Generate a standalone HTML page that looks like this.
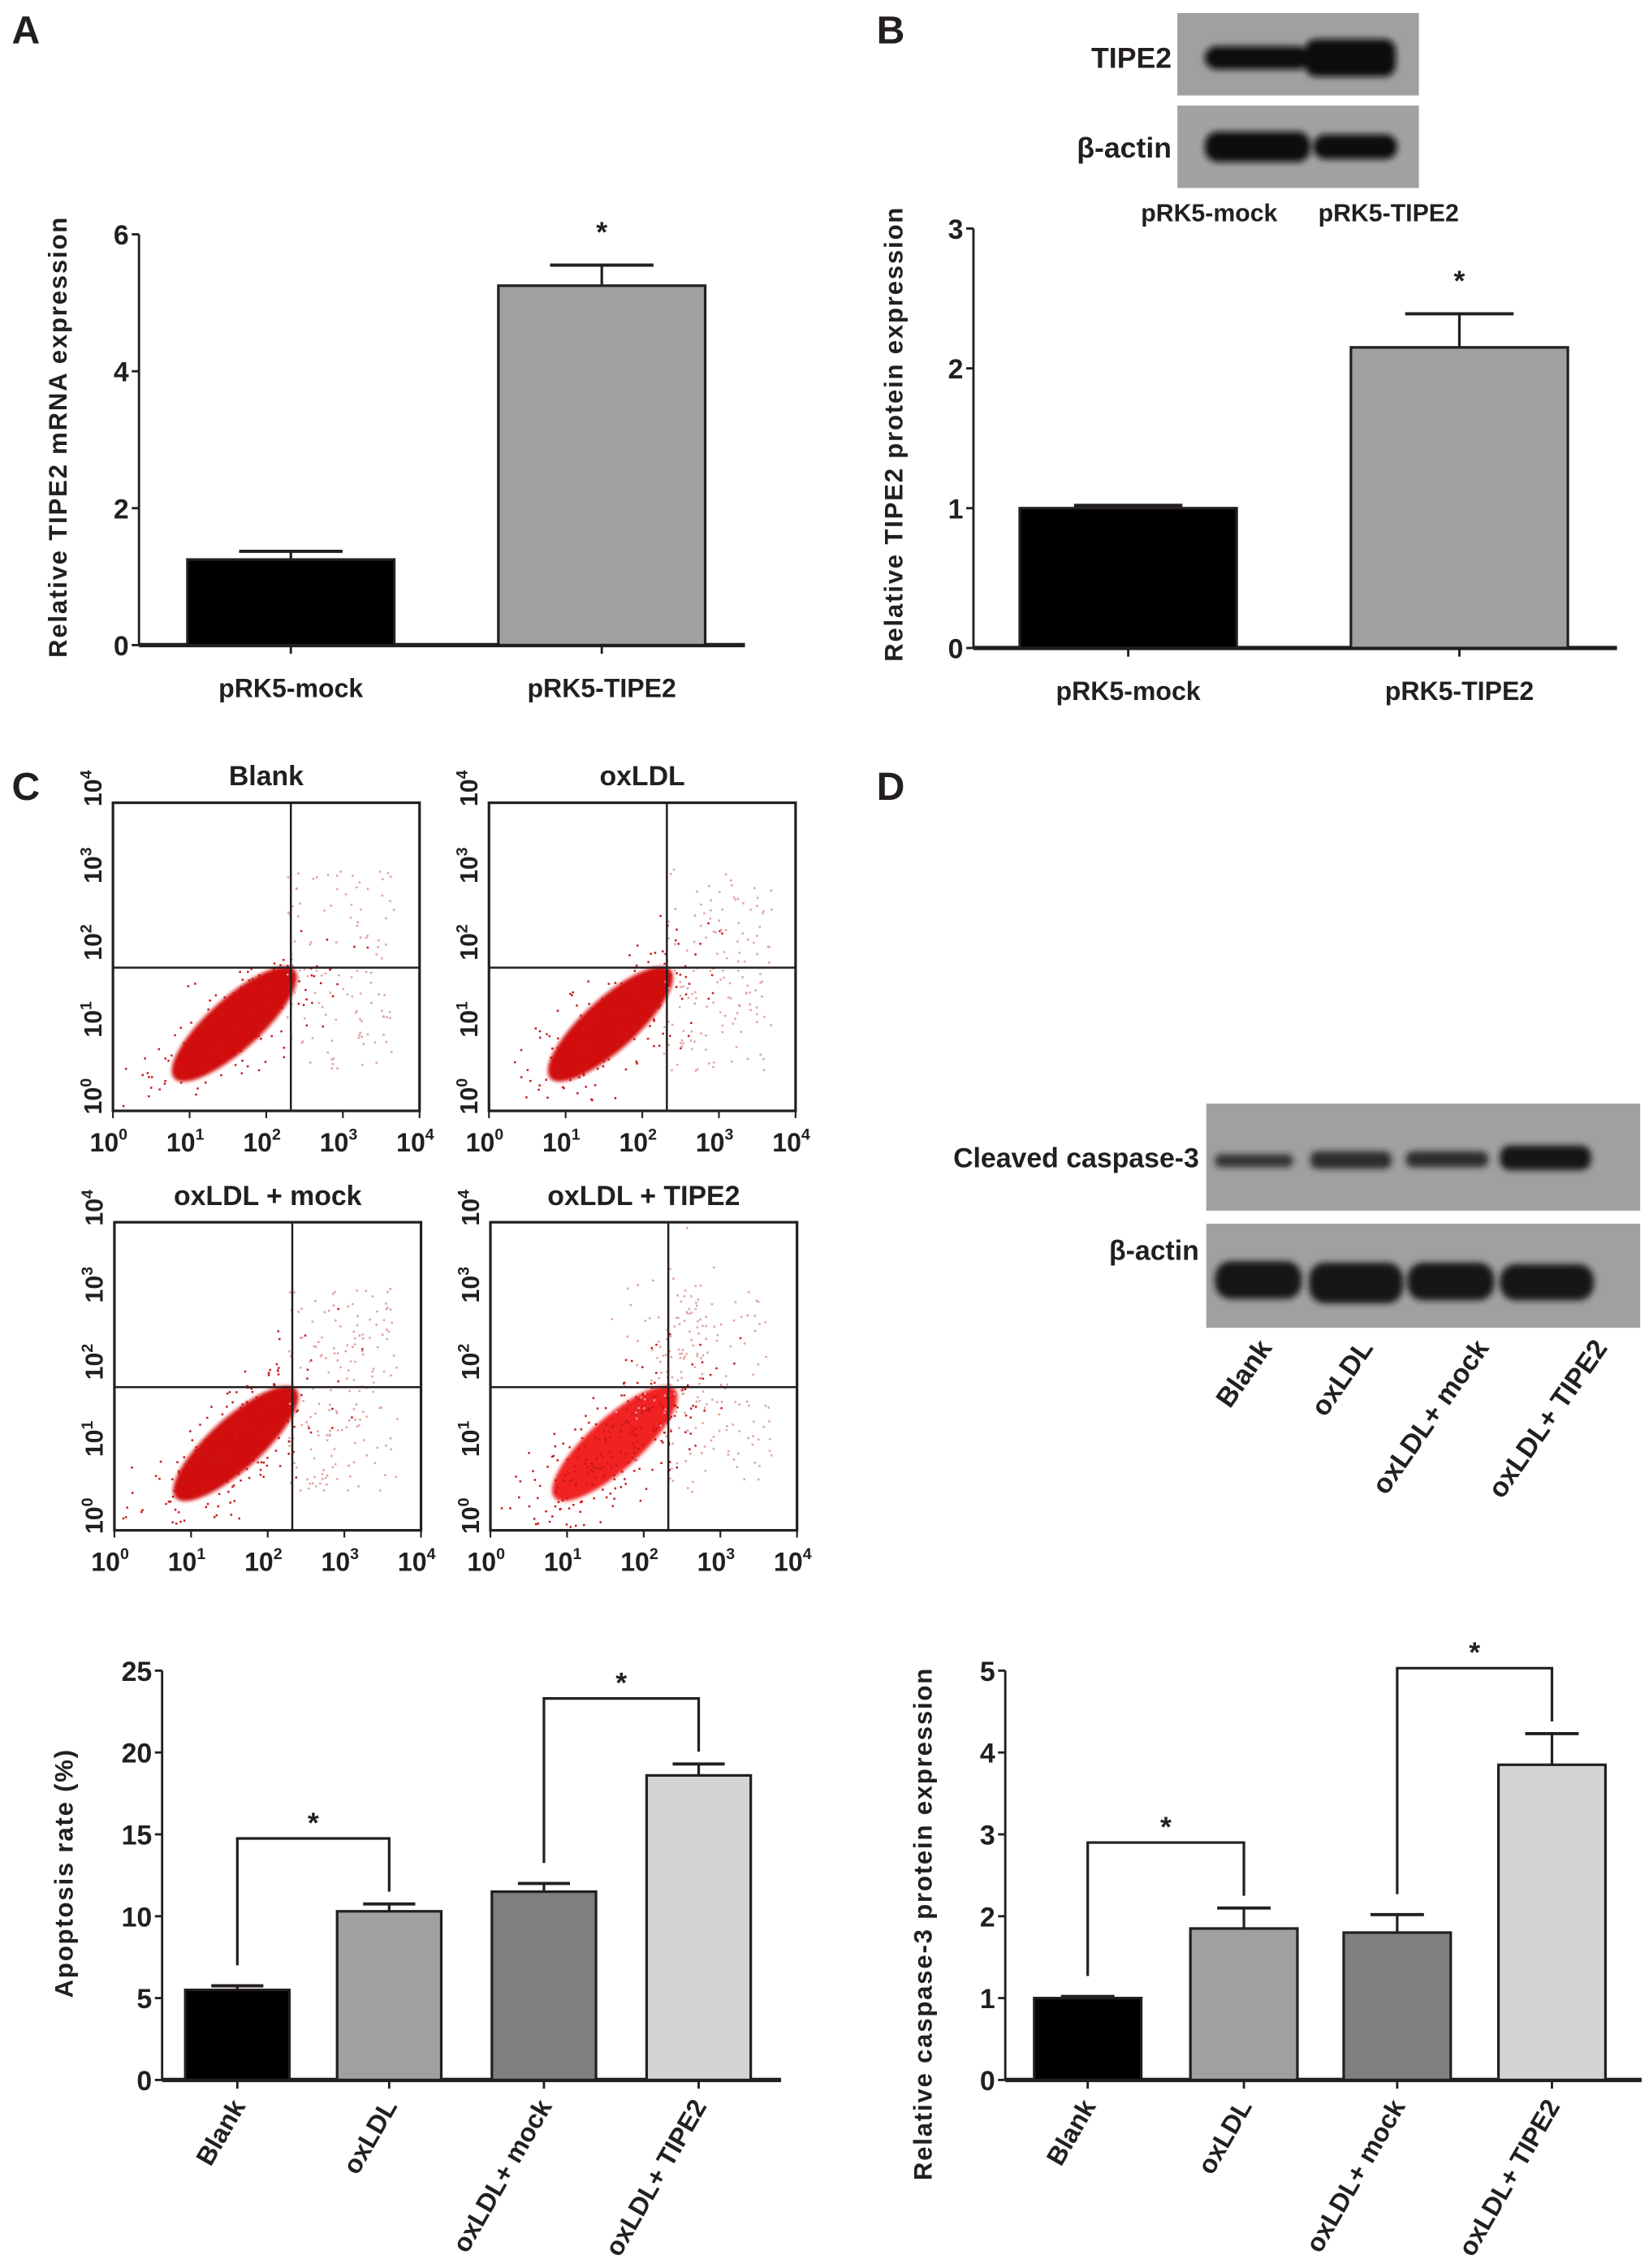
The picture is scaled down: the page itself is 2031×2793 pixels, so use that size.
<!DOCTYPE html>
<html><head><meta charset="utf-8"><style>
html,body{margin:0;padding:0;background:#fff;}
svg{display:block;}
text{font-family:"Liberation Sans",Arial,sans-serif;font-weight:bold;fill:#231f20;}
</style></head><body>
<svg id="fig" width="2031" height="2793" viewBox="0 0 1140 1568" xmlns="http://www.w3.org/2000/svg">
<defs>
<filter id="blur2"><feGaussianBlur stdDeviation="2.2"/></filter>
<filter id="blur1"><feGaussianBlur stdDeviation="1.2"/></filter>
</defs>
<g id="static">
<text x="8" y="30" font-size="27">A</text>
<text x="606" y="30" font-size="27">B</text>
<text x="8" y="553" font-size="27">C</text>
<text x="606" y="553" font-size="27">D</text>

<g>
<rect x="814" y="9" width="167" height="57" fill="#a0a0a0"/>
<rect x="814" y="73" width="167" height="57" fill="#a2a2a2"/>
<g filter="url(#blur2)" fill="#0a0a0a">
<rect x="833" y="32" width="72" height="16" rx="8"/>
<rect x="902" y="27" width="63" height="26" rx="8"/>
<rect x="833" y="91" width="73" height="21" rx="9"/>
<rect x="908" y="93" width="58" height="17" rx="8"/>
</g>
<text x="810" y="47" font-size="20" text-anchor="end">TIPE2</text>
<text x="810" y="109" font-size="20" text-anchor="end">β-actin</text>
<text x="836" y="153" font-size="17" text-anchor="middle">pRK5-mock</text>
<text x="960" y="153" font-size="17" text-anchor="middle">pRK5-TIPE2</text>
</g>

<g>
<rect x="834" y="763" width="300" height="74" fill="#a0a0a0"/>
<rect x="834" y="846" width="300" height="72" fill="#a0a0a0"/>
<g filter="url(#blur2)" fill="#151515">
<rect x="840" y="798" width="54" height="9" rx="4" opacity="0.8"/>
<rect x="906" y="796" width="56" height="12" rx="5" opacity="0.85"/>
<rect x="972" y="796" width="57" height="11" rx="5" opacity="0.85"/>
<rect x="1037" y="792" width="63" height="17" rx="7"/>
<rect x="840" y="872" width="60" height="26" rx="11"/>
<rect x="905" y="873" width="65" height="28" rx="11"/>
<rect x="973" y="873" width="60" height="26" rx="11"/>
<rect x="1037" y="874" width="65" height="25" rx="11"/>
</g>
<text x="829" y="807" font-size="19" text-anchor="end">Cleaved caspase-3</text>
<text x="829" y="871" font-size="19" text-anchor="end">β-actin</text>
<text font-size="19" text-anchor="end" transform="translate(880,932) rotate(-55)">Blank</text>
<text font-size="19" text-anchor="end" transform="translate(950,932) rotate(-55)">oxLDL</text>
<text font-size="19" text-anchor="end" transform="translate(1030,932) rotate(-55)">oxLDL+ mock</text>
<text font-size="19" text-anchor="end" transform="translate(1112,932) rotate(-55)">oxLDL+ TIPE2</text>
</g>
</g>
<g id="charts"></g>
<g id="flow"></g>
<script>
var catsA = ["pRK5-mock", "pRK5-TIPE2"];
var valsA = [1.25, 5.25];
var errA = [0.12, 0.3];
var ticksA = [0, 2, 4, 6];
var catsB = ["pRK5-mock", "pRK5-TIPE2"];
var valsB = [1.0, 2.15];
var errB = [0.02, 0.24];
var ticksB = [0, 1, 2, 3];
var catsC = ["Blank", "oxLDL", "oxLDL+ mock", "oxLDL+ TIPE2"];
var valsC = [5.5, 10.3, 11.5, 18.6];
var errC = [0.25, 0.45, 0.5, 0.7];
var ticksC = [0, 5, 10, 15, 20, 25];
var catsD = ["Blank", "oxLDL", "oxLDL+ mock", "oxLDL+ TIPE2"];
var valsD = [1.0, 1.85, 1.8, 3.85];
var errD = [0.02, 0.25, 0.22, 0.38];
var ticksD = [0, 1, 2, 3, 4, 5];
var flowTitles = ["Blank", "oxLDL", "oxLDL + mock", "oxLDL + TIPE2"];
var flowDecades = ["0", "1", "2", "3", "4"];

var NS = "http://www.w3.org/2000/svg";
var root = document.getElementById("charts");
function mk(tag, attrs, parent) {
  var e = document.createElementNS(NS, tag);
  for (var k in attrs) e.setAttribute(k, attrs[k]);
  (parent || root).appendChild(e);
  return e;
}
function pow10(el, exp, dy, fs) {
  el.appendChild(document.createTextNode("10"));
  var s = document.createElementNS(NS, "tspan");
  s.setAttribute("dy", dy);
  s.setAttribute("font-size", fs);
  s.textContent = exp;
  el.appendChild(s);
}

function barChart(o) {
  var g = mk("g", {});
  
  
  var ys = function (v) { return o.y0 - v / o.max * (o.y0 - o.yTop); };
  var xs = function (i) { return o.centers[i]; };
  var ax = mk("line", {x1: o.x0, x2: o.x0, y1: o.yTop, y2: o.y0, stroke: "#231f20", "stroke-width": 1.6}, g);
  
  
  var xa = mk("line", {x1: o.x0, x2: o.xEnd, y1: o.y0, y2: o.y0, stroke: "#231f20", "stroke-width": 3}, g);
  
  
  o.ticks.forEach(function (t) {
    var y = ys(t);
    var tl = mk("line", {x1: o.x0 - 5, x2: o.x0, y1: y, y2: y, stroke: "#231f20", "stroke-width": 1.6}, g);
    
    
    var tx = mk("text", {x: o.x0 - 7, y: y + 7, "font-size": 19, "text-anchor": "end"}, g);
    
    
    tx.textContent = t;
  });
  o.vals.forEach(function (v, i) {
    var cx = xs(i), w = o.bw;
    var r = mk("rect", {x: cx - w / 2, y: ys(v), width: w, height: o.y0 - ys(v), fill: o.fills[i], stroke: "#231f20", "stroke-width": 1.8}, g);
    
    
    var e1 = mk("line", {x1: cx, x2: cx, y1: ys(v), y2: ys(v + o.err[i]), stroke: "#231f20", "stroke-width": 1.8}, g);
    
    
    var e2 = mk("line", {x1: cx - w * 0.25, x2: cx + w * 0.25, y1: ys(v + o.err[i]), y2: ys(v + o.err[i]), stroke: "#231f20", "stroke-width": 2.2}, g);
    
    
    var tk = mk("line", {x1: cx, x2: cx, y1: o.y0, y2: o.y0 + 6, stroke: "#231f20", "stroke-width": 1.6}, g);
    
    
    var lb;
    if (o.rot) {
      lb = mk("text", {"font-size": 18, "text-anchor": "end", transform: "translate(" + (cx + 6) + "," + (o.y0 + 18) + ") rotate(-60)"}, g);
    } else {
      lb = mk("text", {x: cx, y: o.y0 + 36, "font-size": 18, "text-anchor": "middle"}, g);
    }
    
    
    lb.textContent = o.cats[i];
  });
  if (o.star !== undefined) {
    var i = o.star, v = o.vals[i] + o.err[i];
    var s = mk("text", {x: xs(i), y: ys(v) - 16, "font-size": 20, "text-anchor": "middle", "font-weight": "normal"}, g);
    
    
    s.textContent = "*";
  }
  (o.brackets || []).forEach(function (b) {
    var a = b[0], c = b[1];
    var top = Math.max(o.vals[c] + o.err[c], o.vals[a] + o.err[a]) + o.max * 0.16;
    var yb = ys(top);
    var p = mk("path", {d: "M" + xs(a) + "," + ys(o.vals[a] + o.err[a] + o.max * 0.05) + "V" + yb + "H" + xs(c) + "V" + ys(o.vals[c] + o.err[c] + o.max * 0.03), fill: "none", stroke: "#231f20", "stroke-width": 1.8}, g);
    
    
    var s = mk("text", {x: (xs(a) + xs(c)) / 2, y: yb - 4, "font-size": 20, "text-anchor": "middle", "font-weight": "normal"}, g);
    
    
    s.textContent = "*";
  });
  var tt = mk("text", {"font-size": 17.5, "text-anchor": "middle", "letter-spacing": "1", transform: "translate(" + o.titleX + "," + o.titleY + ") rotate(-90)"}, g);
  
  
  tt.textContent = o.title;
}

barChart({name: "chart-a", x0: 96, xEnd: 515, y0: 446, yTop: 162, max: 6, ticks: ticksA, vals: valsA, err: errA, cats: catsA,
  centers: [201, 416], bw: 143, fills: ["#000", "#a0a0a0"], star: 1, title: "Relative TIPE2 mRNA expression", titleX: 46, titleY: 302});
barChart({name: "chart-b", x0: 673, xEnd: 1118, y0: 448, yTop: 158, max: 3, ticks: ticksB, vals: valsB, err: errB, cats: catsB,
  centers: [780, 1009], bw: 150, fills: ["#000", "#a0a0a0"], star: 1, title: "Relative TIPE2 protein expression", titleX: 624, titleY: 300});
barChart({name: "chart-apoptosis", x0: 112, xEnd: 540, y0: 1438, yTop: 1155, max: 25, ticks: ticksC, vals: valsC, err: errC, cats: catsC,
  centers: [164, 269, 376, 483], bw: 72, fills: ["#000", "#a0a0a0", "#7f7f7f", "#d4d4d4"], rot: true, brackets: [[0, 1], [2, 3]],
  title: "Apoptosis rate (%)", titleX: 50, titleY: 1295});
barChart({name: "chart-caspase", x0: 695, xEnd: 1135, y0: 1438, yTop: 1155, max: 5, ticks: ticksD, vals: valsD, err: errD, cats: catsD,
  centers: [752, 860, 966, 1073], bw: 74, fills: ["#000", "#a0a0a0", "#7f7f7f", "#d4d4d4"], rot: true, brackets: [[0, 1], [2, 3]],
  title: "Relative caspase-3 protein expression", titleX: 644, titleY: 1330});

var flow = document.getElementById("flow");
var seed = 7;
function rnd() { seed = (seed * 16807) % 2147483647; return seed / 2147483647; }
function gauss() { return (rnd() + rnd() + rnd() - 1.5) / 0.5; }
var boxes = [[78, 555], [338, 555], [79, 845], [339, 845]];
boxes.forEach(function (bx, k) {
  var x = bx[0], y = bx[1], W = 212, H = 213;
  var g = mk("g", {}, flow);
  
  
  var t = mk("text", {x: x + W / 2, y: y - 12, "font-size": 19, "text-anchor": "middle"}, g);
  
  
  t.textContent = flowTitles[k];
  var cx = x + 84 + (k === 3 ? 2 : 0), cy = y + 153;
  var ell = mk("ellipse", {cx: cx, cy: cy, rx: 56, ry: 18, fill: k === 3 ? "#f02020" : "#d21010", transform: "rotate(-42 " + cx + " " + cy + ")", filter: "url(#blur1)"}, g);
  
  
  var n = 260 + k * 60;
  for (var i = 0; i < n; i++) {
    var px, py;
    if (i < n * 0.55) {
      var u = gauss() * 42, v = gauss() * 17;
      px = cx + u * 0.74 + v * 0.67; py = cy - u * 0.67 + v * 0.74;
    } else {
      px = x + 120 + rnd() * 75; py = y + 45 + rnd() * 140;
      if (k === 3 && rnd() < 0.5) { px = x + 130 + gauss() * 18; py = y + 100 + gauss() * 40; }
    }
    if (px < x + 2 || px > x + W - 2 || py < y + 2 || py > y + H - 2) continue;
    var d = mk("rect", {x: px, y: py, width: 1.4, height: 1.4, fill: i < n * 0.55 ? "#c81818" : "#e0a0a0"}, g);
    
    
  }
  var b = mk("rect", {x: x, y: y, width: W, height: H, fill: "none", stroke: "#231f20", "stroke-width": 1.8}, g);
  
  
  var vl = mk("line", {x1: x + 123, x2: x + 123, y1: y, y2: y + H, stroke: "#231f20", "stroke-width": 1.4}, g);
  
  
  var hl = mk("line", {x1: x, x2: x + W, y1: y + 114, y2: y + 114, stroke: "#231f20", "stroke-width": 1.4}, g);
  
  
  flowDecades.forEach(function (dd, j) {
    var tx = x + j * W / 4;
    var l = mk("text", {x: tx - 3, y: y + H + 28, "font-size": 18, "text-anchor": "middle", "font-weight": "normal"}, g);
    
    
    pow10(l, dd, -8, 11);
    var ty = y + H - j * H / 4;
    var l2 = mk("text", {"font-size": 17, "text-anchor": "middle", "font-weight": "normal", transform: "translate(" + (x - 8) + "," + (ty - 10) + ") rotate(-90)"}, g);
    
    
    pow10(l2, dd, -7, 11);
    var tk = mk("line", {x1: tx, x2: tx, y1: y + H, y2: y + H + 5, stroke: "#231f20", "stroke-width": 1.2}, g);
    
    
  });
});
</script>
</svg>
</body></html>
